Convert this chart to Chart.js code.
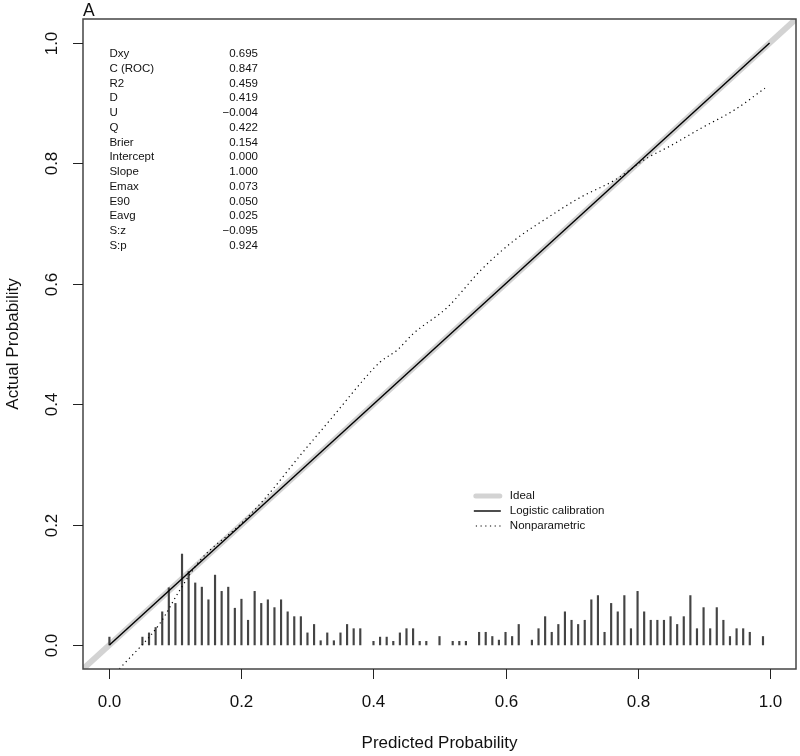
<!DOCTYPE html>
<html>
<head>
<meta charset="utf-8">
<title>Calibration plot</title>
<script src="https://cdn.jsdelivr.net/npm/chart.js@4.4.1/dist/chart.umd.min.js"></script>
<style>
  html, body { margin: 0; padding: 0; background: #fff; }
  #wrap { width: 800px; height: 756px; }
</style>
</head>
<body>
<div id="wrap"><canvas id="calib" width="800" height="756"></canvas></div>
<script>
// axis limits (R style, 4% extension) and tick positions
const axisMin = -0.04;
const axisMax = 1.04;
const tickValues = [0, 0.2, 0.4, 0.6, 0.8, 1.0];
const tickLabels = ['0.0', '0.2', '0.4', '0.6', '0.8', '1.0'];

// logistic calibration: intercept 0, slope 1 over predicted range
const logisticX = [0, 1];
const logisticY = [0, 1];

// nonparametric (loess) curve
const npX = [0.015, 0.076, 0.106, 0.137, 0.198, 0.233, 0.289, 0.339, 0.39, 0.41, 0.436, 0.46, 0.512,
             0.562, 0.613, 0.664, 0.714, 0.765, 0.816, 0.846, 0.897, 0.947, 0.993];
const npY = [-0.04, 0.035, 0.09, 0.14, 0.20, 0.24, 0.315, 0.38, 0.447, 0.47, 0.49, 0.517, 0.561,
             0.622, 0.672, 0.71, 0.744, 0.772, 0.81, 0.827, 0.859, 0.889, 0.925];

// spike histogram of predicted probabilities
const spikeX = [0.00, 0.05, 0.06, 0.07, 0.08, 0.09, 0.10, 0.11, 0.12, 0.13, 0.14, 0.15, 0.16, 0.17, 0.18, 0.19,
                0.20, 0.21, 0.22, 0.23, 0.24, 0.25, 0.26, 0.27, 0.28, 0.29, 0.30, 0.31, 0.32, 0.33, 0.34, 0.35,
                0.36, 0.37, 0.38, 0.40, 0.41, 0.42, 0.43, 0.44, 0.45, 0.46, 0.47, 0.48, 0.50, 0.52, 0.53, 0.54,
                0.56, 0.57, 0.58, 0.59, 0.60, 0.61, 0.62, 0.64, 0.65, 0.66, 0.67, 0.68, 0.69, 0.70, 0.71, 0.72,
                0.73, 0.74, 0.75, 0.76, 0.77, 0.78, 0.79, 0.80, 0.81, 0.82, 0.83, 0.84, 0.85, 0.86, 0.87, 0.88,
                0.89, 0.90, 0.91, 0.92, 0.93, 0.94, 0.95, 0.96, 0.97, 0.99];
const spikeH = [0.013, 0.013, 0.020, 0.029, 0.055, 0.095, 0.069, 0.151, 0.122, 0.103, 0.096, 0.075, 0.116, 0.089, 0.096, 0.061,
                0.076, 0.041, 0.089, 0.069, 0.075, 0.062, 0.075, 0.055, 0.047, 0.047, 0.020, 0.034, 0.007, 0.020, 0.007, 0.020,
                0.034, 0.027, 0.027, 0.006, 0.013, 0.013, 0.006, 0.020, 0.027, 0.027, 0.006, 0.006, 0.014, 0.006, 0.006, 0.006,
                0.021, 0.021, 0.014, 0.008, 0.021, 0.014, 0.034, 0.008, 0.027, 0.047, 0.021, 0.034, 0.055, 0.041, 0.034, 0.041,
                0.075, 0.082, 0.021, 0.069, 0.055, 0.082, 0.027, 0.089, 0.055, 0.041, 0.041, 0.041, 0.047, 0.034, 0.047, 0.082,
                0.027, 0.062, 0.027, 0.062, 0.041, 0.014, 0.027, 0.027, 0.021, 0.014];

// statistics block
const statNames = ['Dxy', 'C (ROC)', 'R2', 'D', 'U', 'Q', 'Brier', 'Intercept', 'Slope', 'Emax', 'E90', 'Eavg', 'S:z', 'S:p'];
const statValues = ['0.695', '0.847', '0.459', '0.419', '\u22120.004', '0.422', '0.154', '0.000', '1.000', '0.073', '0.050', '0.025', '\u22120.095', '0.924'];

const legendLabels = ['Ideal', 'Logistic calibration', 'Nonparametric'];

const FONT = '"Liberation Sans", Arial, sans-serif';
const pairs = (xs, ys) => xs.map((x, i) => ({ x: x, y: ys[i] }));

// draws the R-like frame, ticks, labels, stats text and legend
const rDecor = {
  id: 'rDecor',
  afterDraw(chart) {
    const ctx = chart.ctx;
    const a = chart.chartArea;
    const xs = chart.scales.x, ys = chart.scales.y;
    ctx.save();

    // box
    ctx.strokeStyle = '#444';
    ctx.lineWidth = 1.5;
    ctx.strokeRect(a.left, a.top, a.right - a.left, a.bottom - a.top);

    // ticks + tick labels
    ctx.strokeStyle = '#222';
    ctx.lineWidth = 1;
    ctx.fillStyle = '#111';
    ctx.font = '17px ' + FONT;
    tickValues.forEach((v, i) => {
      const px = Math.round(xs.getPixelForValue(v)) + 0.5;
      ctx.beginPath(); ctx.moveTo(px, a.bottom); ctx.lineTo(px, a.bottom + 10); ctx.stroke();
      ctx.textAlign = 'center'; ctx.textBaseline = 'middle';
      ctx.fillText(tickLabels[i], px, a.bottom + 33);

      const py = Math.round(ys.getPixelForValue(v)) + 0.5;
      ctx.beginPath(); ctx.moveTo(a.left, py); ctx.lineTo(a.left - 10, py); ctx.stroke();
      ctx.save();
      ctx.translate(a.left - 31, py);
      ctx.rotate(-Math.PI / 2);
      ctx.fillText(tickLabels[i], 0, 0);
      ctx.restore();
    });

    // axis titles
    ctx.textAlign = 'center'; ctx.textBaseline = 'middle';
    ctx.fillText('Predicted Probability', (a.left + a.right) / 2, a.bottom + 74);
    ctx.save();
    ctx.translate(13, (a.top + a.bottom) / 2);
    ctx.rotate(-Math.PI / 2);
    ctx.fillText('Actual Probability', 0, 0);
    ctx.restore();

    // panel letter
    ctx.textAlign = 'left';
    ctx.font = '17.5px ' + FONT;
    ctx.fillText('A', a.left, a.top - 8);

    // stats block
    ctx.font = '11.5px ' + FONT;
    const sx0 = xs.getPixelForValue(0);
    const sx1 = xs.getPixelForValue(0.225);
    const sy0 = a.top + 35;
    statNames.forEach((n, i) => {
      const y = sy0 + i * 14.75;
      ctx.textAlign = 'left';
      ctx.fillText(n, sx0, y);
      ctx.textAlign = 'right';
      ctx.fillText(statValues[i], sx1, y);
    });

    // legend
    const lx = xs.getPixelForValue(0.552);
    const ly = a.top + 477;
    ctx.lineCap = 'round';
    ctx.strokeStyle = '#d3d3d3'; ctx.lineWidth = 5;
    ctx.beginPath(); ctx.moveTo(lx + 2, ly); ctx.lineTo(lx + 26, ly); ctx.stroke();
    ctx.lineCap = 'butt';
    ctx.strokeStyle = '#000'; ctx.lineWidth = 1.4;
    ctx.beginPath(); ctx.moveTo(lx, ly + 15); ctx.lineTo(lx + 27, ly + 15); ctx.stroke();
    ctx.lineWidth = 1.2;
    ctx.setLineDash([1.2, 3.5]);
    ctx.beginPath(); ctx.moveTo(lx + 2, ly + 30); ctx.lineTo(lx + 27, ly + 30); ctx.stroke();
    ctx.setLineDash([]);
    ctx.textAlign = 'left';
    legendLabels.forEach((t, i) => ctx.fillText(t, lx + 36, ly + i * 15));

    ctx.restore();
  }
};

new Chart(document.getElementById('calib'), {
  type: 'scatter',
  data: {
    datasets: [
      {
        type: 'line', label: 'Logistic calibration', order: 0,
        data: pairs(logisticX, logisticY),
        borderColor: '#000', borderWidth: 1.4, pointRadius: 0, fill: false
      },
      {
        type: 'line', label: 'Nonparametric', order: 1,
        data: pairs(npX, npY),
        borderColor: '#000', borderWidth: 1.2, borderDash: [1.2, 3.5],
        pointRadius: 0, fill: false, cubicInterpolationMode: 'monotone', clip: 0
      },
      {
        type: 'bar', label: 'spikes', order: 2,
        data: pairs(spikeX, spikeH),
        backgroundColor: '#444', barThickness: 1.5, borderWidth: 0
      },
      {
        type: 'line', label: 'Ideal', order: 3,
        data: pairs([axisMin, axisMax], [axisMin, axisMax]),
        borderColor: '#d3d3d3', borderWidth: 6, pointRadius: 0, fill: false, clip: 0
      }
    ]
  },
  options: {
    responsive: false,
    animation: false,
    layout: { padding: { left: 83, top: 19, right: 4, bottom: 87 } },
    plugins: { legend: { display: false }, tooltip: { enabled: false }, title: { display: false } },
    scales: {
      x: { type: 'linear', min: axisMin, max: axisMax, offset: false, display: false },
      y: { type: 'linear', min: axisMin, max: axisMax, display: false }
    }
  },
  plugins: [rDecor]
});
</script>
</body>
</html>
